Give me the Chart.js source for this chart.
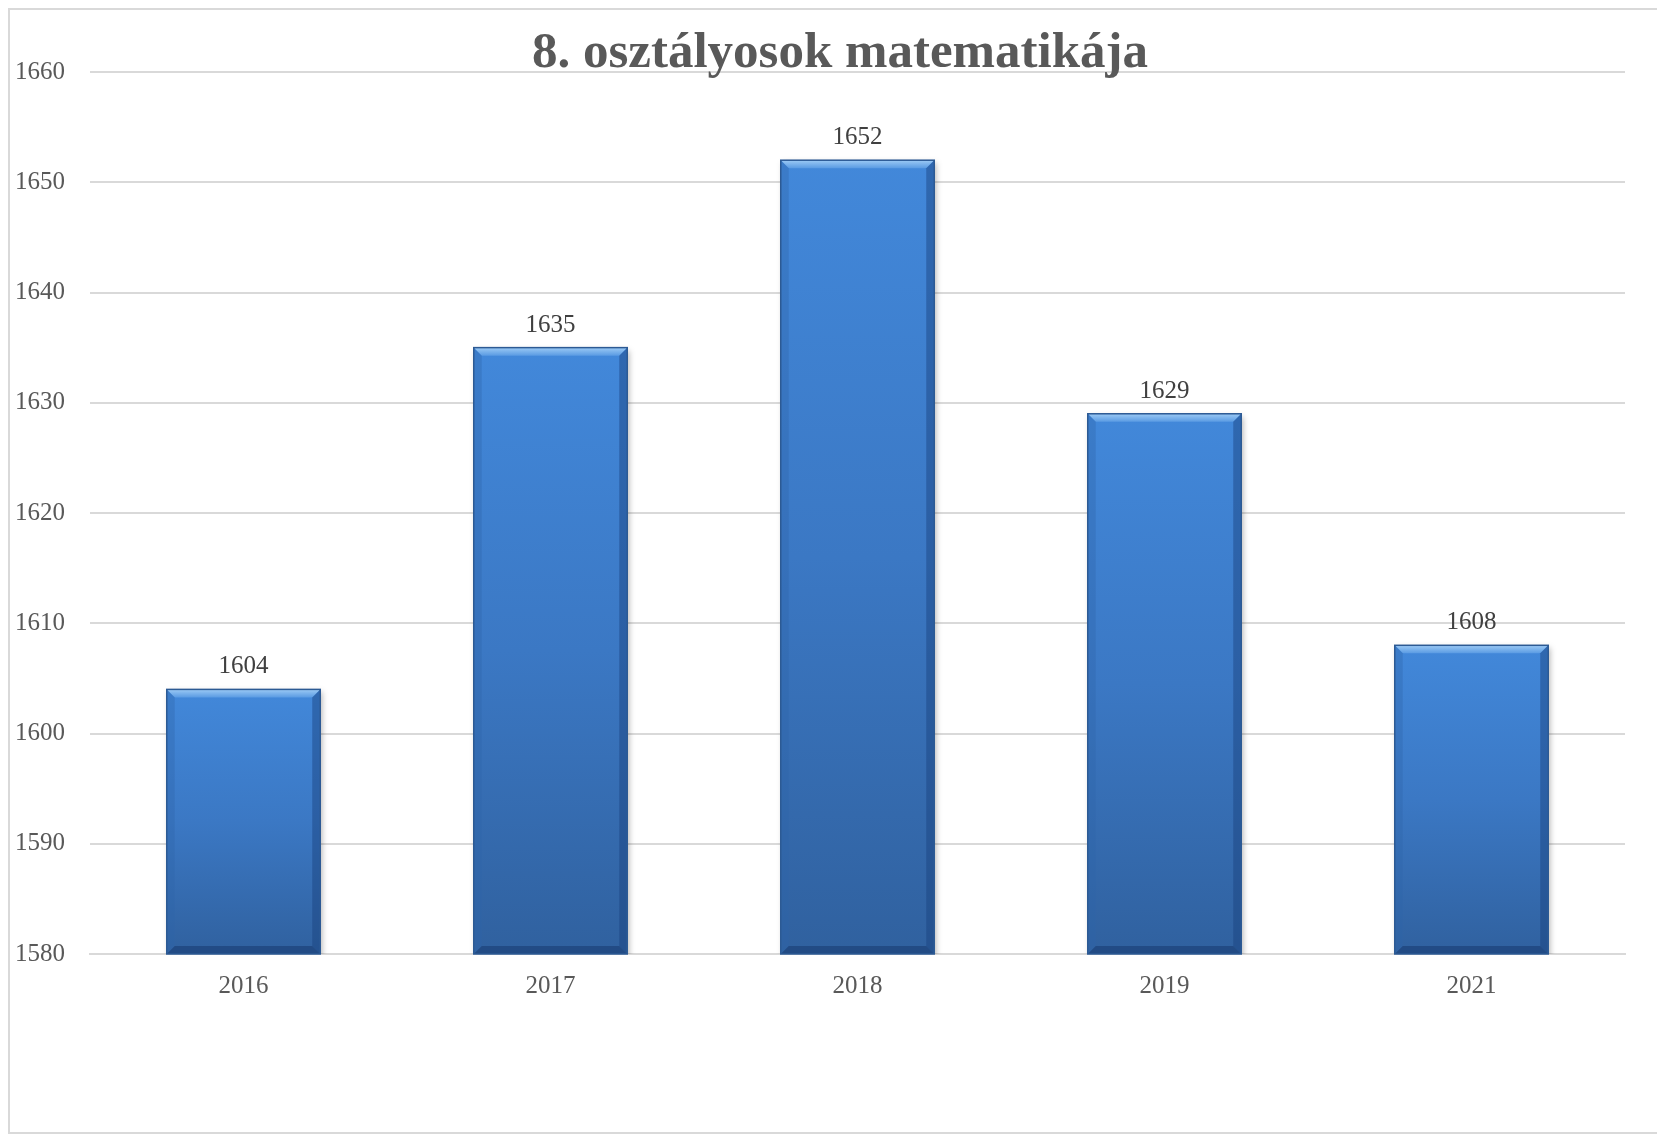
<!DOCTYPE html>
<html lang="hu">
<head>
<meta charset="utf-8">
<title>8. osztályosok matematikája</title>
<script src="https://cdn.jsdelivr.net/npm/chart.js@4/dist/chart.umd.min.js"></script>
<style>
  html, body { margin: 0; padding: 0; background: #ffffff; overflow: hidden; }
  #wrap { position: relative; width: 1657px; height: 1137px; }
  #frame {
    position: absolute; left: 8px; top: 8px; width: 1660px; height: 1126px;
    border: 2px solid #d9d9d9; box-sizing: border-box; pointer-events: none;
  }
  canvas { position: absolute; left: 0; top: 0; }
</style>
</head>
<body>
<div id="wrap">
  <canvas id="myChart" width="1657" height="1137"></canvas>
  <div id="frame"></div>
</div>
<script>
const chartTitle = "8. osztályosok matematikája";
const years = ["2016", "2017", "2018", "2019", "2021"];
const scores = [1604, 1635, 1652, 1629, 1608];
const yMin = 1580;
const yMax = 1660;
const yStep = 10;

const serifFont = "'Liberation Serif', 'DejaVu Serif', serif";

// vertical gradient for every bar, light on top, dark at the base
const barGradient = (context) => {
  const chart = context.chart;
  if (!chart.chartArea) {
    return "#3b78c4";
  }
  const top = chart.scales.y.getPixelForValue(context.raw);
  const bottom = chart.scales.y.getPixelForValue(yMin);
  const g = chart.ctx.createLinearGradient(0, top, 0, bottom);
  g.addColorStop(0, "#4288da");
  g.addColorStop(0.5, "#3b78c4");
  g.addColorStop(1, "#30619f");
  return g;
};

// soft shadow behind bars
const shadowPlugin = {
  id: "barShadow",
  beforeDatasetsDraw: (chart) => {
    const ctx = chart.ctx;
    ctx.save();
    ctx.shadowColor = "rgba(0, 0, 0, 0.3)";
    ctx.shadowBlur = 6;
    ctx.shadowOffsetX = 2;
    ctx.shadowOffsetY = 3;
  },
  afterDatasetsDraw: (chart) => {
    chart.ctx.restore();
  },
};

const quad = (ctx, pts, fill) => {
  ctx.fillStyle = fill;
  ctx.beginPath();
  ctx.moveTo(pts[0], pts[1]);
  ctx.lineTo(pts[2], pts[3]);
  ctx.lineTo(pts[4], pts[5]);
  ctx.lineTo(pts[6], pts[7]);
  ctx.closePath();
  ctx.fill();
};

// bevel edges and value labels on top of the bars
const bevelPlugin = {
  id: "bevelLabels",
  afterDatasetsDraw: (chart) => {
    const ctx = chart.ctx;
    const meta = chart.getDatasetMeta(0);
    const bottom = chart.scales.y.getPixelForValue(yMin);
    meta.data.forEach((bar, i) => {
      const left = bar.x - bar.width / 2;
      const right = bar.x + bar.width / 2;
      const top = bar.y;
      const b = 8;
      ctx.save();
      let g = ctx.createLinearGradient(0, top, 0, top + b);
      g.addColorStop(0, "#9ccaf5");
      g.addColorStop(1, "#5a9be3");
      quad(ctx, [left, top, right, top, right - b, top + b, left + b, top + b], g);
      quad(ctx, [left, top, left + b, top + b, left + b, bottom - b, left, bottom], "rgba(45, 100, 170, 0.35)");
      quad(ctx, [right, top, right - b, top + b, right - b, bottom - b, right, bottom], "rgba(25, 65, 125, 0.45)");
      quad(ctx, [left, bottom, left + b, bottom - b, right - b, bottom - b, right, bottom], "rgba(25, 60, 115, 0.6)");
      ctx.strokeStyle = "#2c5a94";
      ctx.lineWidth = 1.5;
      ctx.strokeRect(left, top, right - left, bottom - top);
      ctx.restore();

      // value label
      ctx.save();
      ctx.fillStyle = "#404040";
      ctx.font = `25px ${serifFont}`;
      ctx.textAlign = "center";
      ctx.textBaseline = "bottom";
      ctx.fillText(String(scores[i]), bar.x, top - 10);
      ctx.restore();
    });
  },
};

// chart title, sitting over the top gridline like in the original
const titlePlugin = {
  id: "topTitle",
  afterDraw: (chart) => {
    const ctx = chart.ctx;
    ctx.save();
    ctx.fillStyle = "#595959";
    ctx.font = `bold 51px ${serifFont}`;
    ctx.textAlign = "center";
    ctx.textBaseline = "middle";
    ctx.fillText(chartTitle, 840, 54);
    ctx.restore();
  },
};

const config = {
  type: "bar",
  data: {
    labels: years,
    datasets: [
      {
        label: chartTitle,
        data: scores,
        backgroundColor: barGradient,
        borderWidth: 0,
        categoryPercentage: 1,
        barPercentage: 0.5,
      },
    ],
  },
  options: {
    responsive: false,
    animation: false,
    layout: {
      padding: { left: -10, right: 32, top: 72, bottom: 127 },
    },
    plugins: {
      legend: { display: false },
      tooltip: { enabled: false },
      title: { display: false },
    },
    scales: {
      x: {
        grid: { display: false },
        border: { display: true, color: "#d9d9d9", width: 2 },
        ticks: {
          color: "#595959",
          font: { family: serifFont, size: 25 },
          padding: 9,
        },
      },
      y: {
        min: yMin,
        max: yMax,
        border: { display: false },
        grid: { color: "#d9d9d9", lineWidth: 2, drawTicks: false },
        ticks: {
          stepSize: yStep,
          color: "#595959",
          font: { family: serifFont, size: 25 },
          padding: 25,
          callback: (value) => String(value),
        },
      },
    },
  },
  plugins: [shadowPlugin, bevelPlugin, titlePlugin],
};

const myChart = new Chart(document.getElementById("myChart"), config);
</script>
</body>
</html>
